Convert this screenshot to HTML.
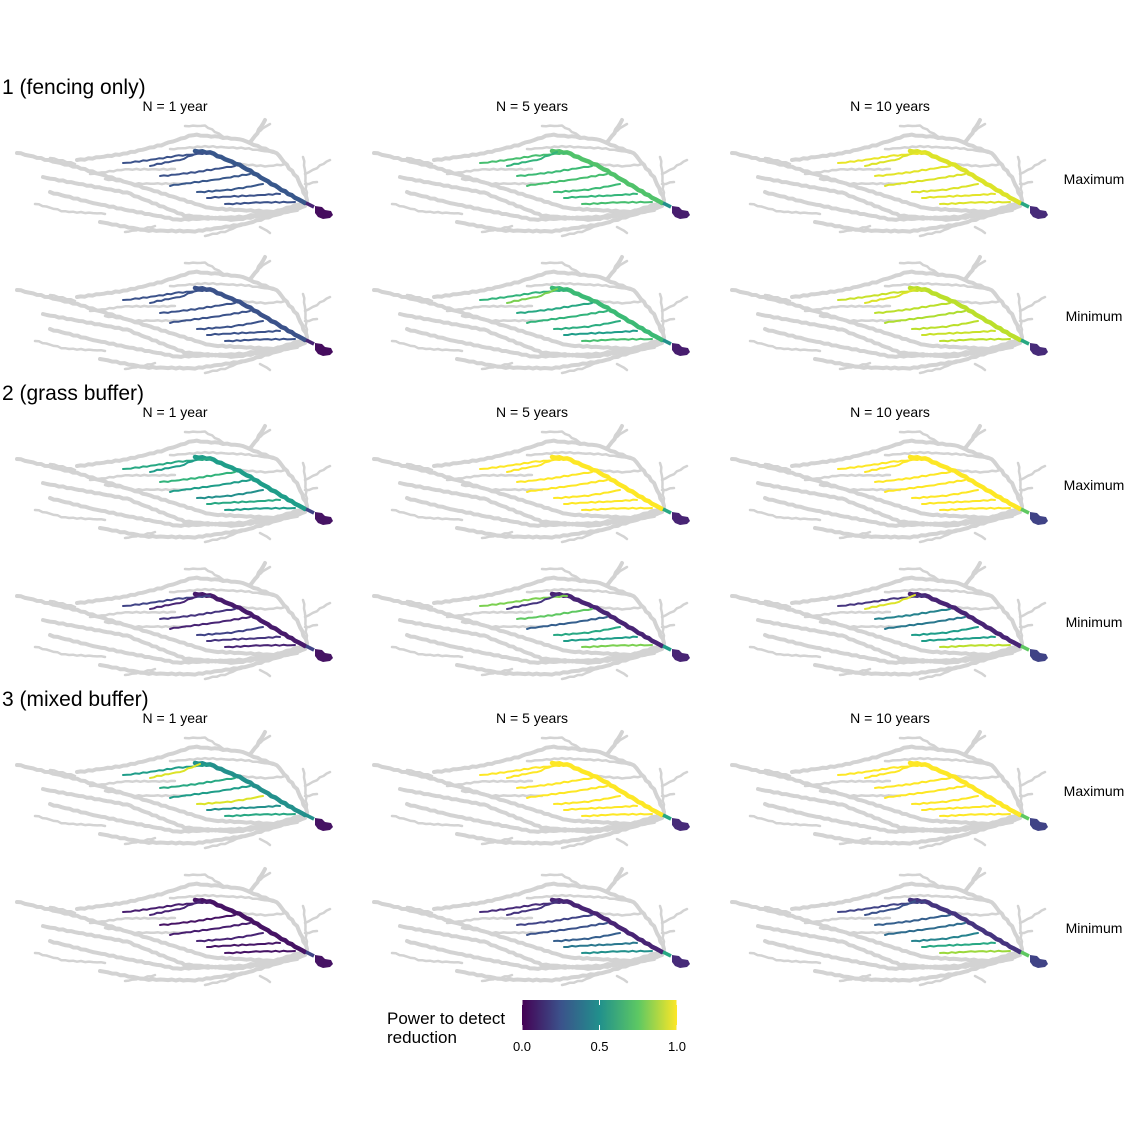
<!DOCTYPE html>
<html><head><meta charset="utf-8">
<style>
body{margin:0;background:#fff;}
svg{display:block;font-family:"Liberation Sans",Arial,sans-serif;}
</style></head>
<body>
<svg id="chart" width="1125" height="1123" viewBox="0 0 1125 1123" xmlns="http://www.w3.org/2000/svg">
<defs>
<linearGradient id="vir" x1="0" x2="1" y1="0" y2="0">
<stop offset="0" stop-color="#440154"/><stop offset="0.25" stop-color="#3b528b"/>
<stop offset="0.5" stop-color="#21908c"/><stop offset="0.75" stop-color="#5dc863"/>
<stop offset="1" stop-color="#fde725"/></linearGradient>
</defs>
</svg>
<script>
// data
const scenarios = ["1 (fencing only)", "2 (grass buffer)", "3 (mixed buffer)"];
const durations = ["N = 1 year", "N = 5 years", "N = 10 years"];
const bounds = ["Maximum", "Minimum"];
// power per panel: [connector, main, b1..b7]; scenario -> bound -> duration
const fencingMax = [[0.1,0.27,0.25,0.25,0.25,0.27,0.27,0.25,0.25],[0.5,0.72,0.7,0.65,0.68,0.7,0.68,0.66,0.7],[0.6,0.95,0.97,0.95,0.96,0.95,0.95,0.96,0.95]];
const fencingMin = [[0.1,0.25,0.25,0.25,0.25,0.25,0.25,0.25,0.25],[0.5,0.68,0.65,0.8,0.6,0.65,0.62,0.55,0.7],[0.6,0.9,0.92,0.95,0.9,0.88,0.9,0.92,0.9]];
const grassMax = [[0.2,0.55,0.6,0.55,0.65,0.55,0.5,0.6,0.55],[0.6,1,1,1,1,1,1,1,1],[0.75,1,1,1,1,1,1,1,1]];
const grassMin = [[0.2,0.07,0.2,0.1,0.15,0.1,0.2,0.15,0.1],[0.55,0.1,0.8,0.15,0.75,0.3,0.6,0.55,0.8],[0.75,0.1,0.15,0.95,0.45,0.4,0.55,0.55,0.9]];
const mixedMax = [[0.5,0.5,0.55,0.95,0.6,0.55,0.95,0.5,0.6],[0.6,1,1,1,1,1,1,1,1],[0.75,1,1,1,1,1,1,1,1]];
const mixedMin = [[0.2,0.05,0.08,0.1,0.05,0.08,0.1,0.06,0.05],[0.6,0.1,0.12,0.15,0.2,0.25,0.3,0.4,0.5],[0.75,0.15,0.2,0.25,0.3,0.35,0.45,0.6,0.85]];
const panelValues = [[fencingMax,fencingMin],[grassMax,grassMin],[mixedMax,mixedMin]];
const outletByScenario = [[0.03,0.08,0.12],[0.05,0.1,0.2],[0.05,0.12,0.2]];
const legendTicks = [0.0, 0.5, 1.0];

const NS="http://www.w3.org/2000/svg";
const svg=document.getElementById('chart');
function mk(tag,attrs,parent){const e=document.createElementNS(NS,tag);for(const k in attrs)e.setAttribute(k,attrs[k]);(parent||svg).appendChild(e);return e;}
const vstops=[[68,1,84],[72,40,120],[62,74,137],[49,104,142],[38,130,142],[31,158,137],[53,183,121],[109,205,89],[180,222,44],[253,231,37]];
function viridis(v){v=Math.max(0,Math.min(1,v));const t=v*(vstops.length-1);const i=Math.min(Math.floor(t),vstops.length-2);const f=t-i;
 const c=vstops[i].map((a,j)=>Math.round(a+(vstops[i+1][j]-a)*f));return `rgb(${c[0]},${c[1]},${c[2]})`;}
const grey=[
 [[2,-2],[-30,8],[-95,4],[-162,-17],[-228,-37],[-288,-51]],
 [[0,2],[-62,13],[-128,16],[-180,6],[-212,-1],[-255,-12]],
 [[-5,4],[-60,20],[-110,27],[-160,26],[-205,18]],
 [[-8,6],[-70,16],[-120,12],[-178,-11],[-262,-27]],
 [[2,-4],[-8,-27],[-28,-51],[-55,-61],[-48,-71],[-40,-84]],
 [[-55,-61],[-62,-64],[-90,-67],[-112,-69],[-140,-60],[-178,-51],[-228,-44]],
 [[-28,-51],[-60,-56],[-100,-58],[-135,-55]],
 [[2,-4],[0,-30],[-2,-47]],[[0,-30],[12,-36],[25,-44]],[[0,-20],[12,-22]],
 [[-45,23],[-35,29]],[[-60,20],[-80,28],[-100,32]],
 [[-150,22],[-180,28]],[[-200,10],[-240,8],[-270,0]],
 [[-130,-35],[-180,-35],[-215,-30]],[[-120,-20],[-170,-20],[-200,-25]],
 [[-20,-40],[-40,-38],[-65,-40]],[[-80,-66],[-100,-78],[-120,-78]],
 [[-48,-71],[-35,-80]],[[-230,-40],[-255,-46]]
];
const colored=[
 [[0,-1],[-30,-18],[-62,-37],[-95,-51],[-110,-53]],
 [[-95,-51],[-130,-48],[-150,-45],[-182,-41]],
 [[-105,-52],[-125,-44],[-155,-38]],
 [[-70,-38],[-110,-32],[-145,-28]],
 [[-55,-30],[-90,-24],[-135,-18]],
 [[-42,-20],[-70,-15],[-108,-12]],
 [[-25,-10],[-55,-8],[-98,-6]],
 [[-10,-2],[-45,-2],[-80,0]]
];
function wig(pts,ox,oy,seed){
 let out=[];
 for(let i=0;i<pts.length-1;i++){
  const [x0,y0]=pts[i],[x1,y1]=pts[i+1];const L=Math.hypot(x1-x0,y1-y0);const n=Math.max(1,Math.round(L/4));
  const nx=-(y1-y0)/L,ny=(x1-x0)/L;
  for(let j=0;j<n;j++){const t=j/n;const q=(i*13+j)*2.7+seed*1.3;
   const a=(i===0&&j===0)?0:(Math.sin(q)*0.5+Math.sin(q*2.3+1)*0.35);
   out.push([ox+x0+(x1-x0)*t+nx*a,oy+y0+(y1-y0)*t+ny*a]);}
 }
 const l=pts[pts.length-1];out.push([ox+l[0],oy+l[1]]);
 return out.map((p,i)=>(i?'L':'M')+p[0].toFixed(1)+' '+p[1].toFixed(1)).join(' ');
}
const colX=[305,662,1020], blockY=[204,510,816], rowOff=[0,137];
scenarios.forEach((s,si)=>{
 const t=mk('text',{x:2,y:blockY[si]-110,'font-size':21,fill:'#000'});t.textContent=s;
 
 
 durations.forEach((d,di)=>{const tt=mk('text',{x:colX[di]-130,y:blockY[si]-93,'font-size':14,'text-anchor':'middle'});tt.textContent=d;
  
  });
 bounds.forEach((b,bi)=>{
  const oy=blockY[si]+rowOff[bi];
  const bl=mk('text',{x:1094,y:oy-20,'font-size':14,'text-anchor':'middle'});bl.textContent=b;
  
  
  durations.forEach((d,di)=>{
   const ox=colX[di];const vals=panelValues[si][bi][di];
   const g=mk('g',{});
   
   
   grey.forEach((pts,k)=>{const p=mk('path',{d:wig(pts,ox,oy,k),fill:'none',stroke:'#d3d3d3','stroke-width':k<6?4:2.5,'stroke-linejoin':'round','stroke-linecap':'round'},g);
    
    });
   colored.forEach((pts,k)=>{const p=mk('path',{d:wig(pts,ox,oy,k+3),fill:'none',stroke:viridis(vals[k+1]),'stroke-width':k==0?4.5:2,'stroke-linejoin':'round','stroke-linecap':'round'},g);
    
    });
   const c=mk('path',{d:`M${ox+1} ${oy-1} L${ox+9} ${oy+3}`,stroke:viridis(vals[0]),'stroke-width':3.5,fill:'none'},g);
   
   
   const o=mk('path',{d:`M${ox+10} ${oy+2} l7 1 l3 3 l6 1 l2 4 l-3 3 l-7 1 l-5 -2 l-3 -4 z`,fill:viridis(outletByScenario[si][di])},g);
   
   
  });
 });
});
const lg=mk('g',{});


const l1=mk('text',{x:387,y:1024,'font-size':17},lg);l1.textContent='Power to detect';
const l2=mk('text',{x:387,y:1043,'font-size':17},lg);l2.textContent='reduction';
const bar=mk('rect',{x:522,y:1000,width:155,height:30,fill:'url(#vir)'},lg);


legendTicks.forEach(v=>{const x=522+155*v;
 mk('line',{x1:x,x2:x,y1:1000,y2:1005,stroke:'#fff','stroke-width':1},lg);
 mk('line',{x1:x,x2:x,y1:1025,y2:1030,stroke:'#fff','stroke-width':1},lg);
 const t=mk('text',{x:x,y:1051,'font-size':13,'text-anchor':'middle'},lg);t.textContent=v.toFixed(1);
 
 });
</script>
</body></html>
